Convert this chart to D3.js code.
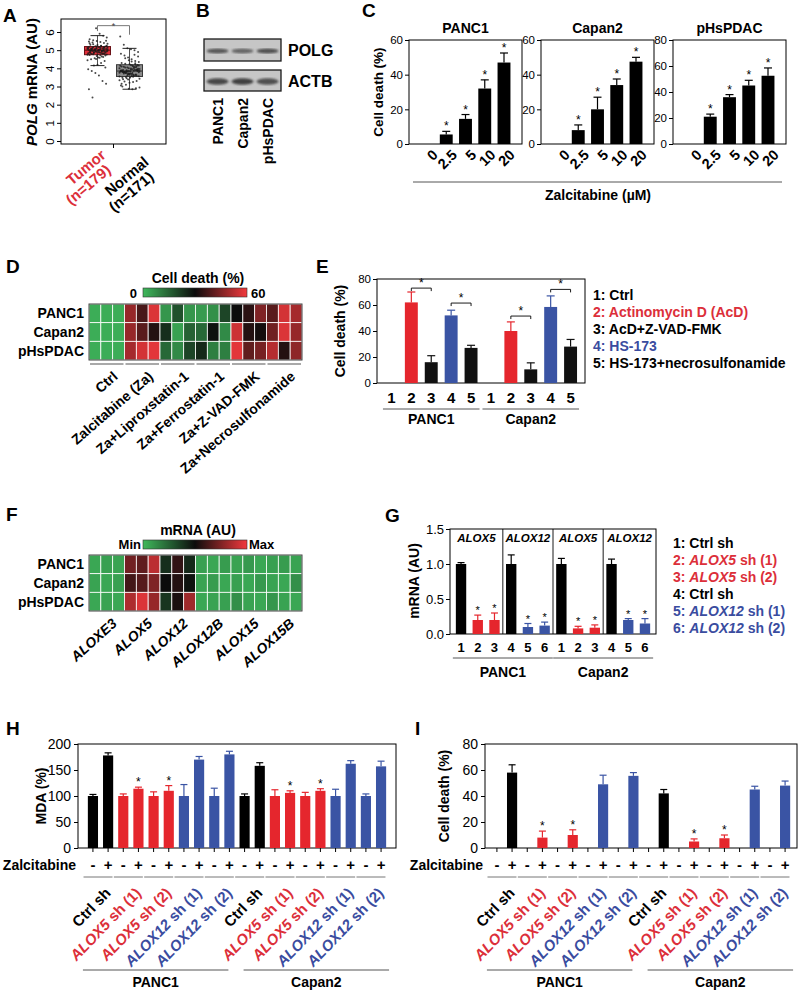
<!DOCTYPE html>
<html><head><meta charset="utf-8">
<script src="https://cdn.jsdelivr.net/npm/d3@7/dist/d3.min.js"></script>
<style>body{margin:0;background:#fff}svg text{font-family:"Liberation Sans",Arial,Helvetica,sans-serif}</style>
</head><body>
<script>
// ================= DATA =================
// Panel A
const aGroups = ["Tumor","Normal"];
const aGroupLabels = [["Tumor","(n=179)"],["Normal","(n=171)"]];
const aYTicks = [0,1,2,3,4,5,6];
// [whisker low, q1, median, q3, whisker high]
const aTumorBox = [4.15,4.75,5.0,5.2,5.8];
const aNormalBox = [2.85,3.55,3.85,4.2,5.1];
const aTumorPoints = [4.75,4.8,4.85,4.9,4.95,5.0,5.05,5.1,5.15,5.2,4.78,4.88,4.92,4.97,5.02,5.08,5.12,5.18,5.22,4.82,4.9,5.0,5.05,5.1,4.7,4.65,4.6,4.55,4.5,4.45,4.4,4.3,4.2,4.15,5.3,5.35,5.4,5.45,5.5,5.55,5.6,5.7,5.8,5.9,6.2,2.4,2.85,3.15,3.3,3.6,3.75,3.85,3.95,4.05,4.95,5.0,5.03,4.98,5.07,4.93,5.25,5.28,4.86,4.84,5.14,5.16,4.72,4.68,5.32,5.38,
  4.76,4.81,4.87,4.91,4.96,5.01,5.06,5.11,5.16,5.21,4.79,4.83,4.89,4.94,4.99,5.04,5.09,5.13,5.19,5.23,4.77,4.86,4.92,4.97,5.02,5.06,5.12,5.17,4.74,5.24,4.62,4.58,4.52,5.42,5.48,5.52,4.98,5.01,4.96,5.04];
const aNormalPoints = [3.55,3.6,3.65,3.7,3.75,3.8,3.85,3.9,3.95,4.0,4.05,4.1,4.15,4.2,3.58,3.68,3.78,3.88,3.98,4.08,4.18,3.62,3.72,3.82,3.92,4.02,3.5,3.45,3.4,3.35,3.3,3.25,3.2,3.1,3.0,2.95,2.9,2.85,2.87,4.25,4.3,4.35,4.4,4.5,4.6,4.7,4.8,4.9,5.0,5.05,5.1,5.3,5.75,3.85,3.87,3.83,3.9,3.8,3.76,3.93,4.12,4.22,3.52,3.48,3.42,3.66,3.74,4.45,4.55,3.15,
  3.57,3.63,3.69,3.73,3.79,3.84,3.89,3.94,3.99,4.04,4.09,4.14,4.19,3.61,3.71,3.81,3.91,4.01,4.11,3.54,3.64,3.74,3.86,3.96,4.06,4.16,3.86,3.82,3.88,3.78,4.28,4.38,3.38,3.28,3.05,4.65,4.75,3.92,3.84,3.8];

// Panel B
const bLanes = ["PANC1","Capan2","pHsPDAC"];
const bProteins = ["POLG","ACTB"];
const bPolgBand = [0.75,0.65,0.8];
const bActbBand = [0.85,0.9,0.8];

// Panel C
const cDoses = ["0","2.5","5","10","20"];
const cCellLines = ["PANC1","Capan2","pHsPDAC"];
const cPanc1 = [0,5.5,14.5,32,47];
const cPanc1Err = [0,1.8,2.5,5,5.5];
const cCapan2 = [0,8,20,34,47.5];
const cCapan2Err = [0,3,7,3.5,2.5];
const cPhspdac = [0,21,36,45,52.5];
const cPhspdacErr = [0,2,2,4,6];
const cYMax = [60,60,80];
const cStars = [false,true,true,true,true];

// Panel D
const dRows = ["PANC1","Capan2","pHsPDAC"];
const dGroups = ["Ctrl","Zalcitabine (Za)","Za+Liproxstatin-1","Za+Ferrostatin-1","Za+Z-VAD-FMK","Za+Necrosulfonamide"];
const dPanc1 =   [2,2,2, 48,38,57, 6,18,6, 5,7,20, 30,34,45, 40,56,50];
const dCapan2 =  [2,2,2, 48,40,33, 24,4,15, 14,29,8, 55,33,31, 43,57,48];
const dPhspdac = [2,2,2, 50,56,58, 14,8,20, 25,10,10, 58,41,44, 52,33,47];
const dScale = [0,60];

// Panel E
const eTreatments = ["1","2","3","4","5"];
const eCellLines = ["PANC1","Capan2"];
const ePanc1 = [0,62,16,52,27];
const ePanc1Err = [0,8,5,4,2];
const eCapan2 = [0,40,10.5,58.5,28];
const eCapan2Err = [0,7,5,8.5,5.5];
const ePanc1Brackets = [73,61.5];
const eCapan2Brackets = [51.5,72];
const eLegend = ["1: Ctrl","2: Actinomycin D (AcD)","3: AcD+Z-VAD-FMK","4: HS-173","5: HS-173+necrosulfonamide"];

// Panel F
const fGenes = ["ALOXE3","ALOX5","ALOX12","ALOX12B","ALOX15","ALOX15B"];
const fPanc1 =   [0.05,0.07,0.06, 0.72,0.68,0.88, 0.40,0.58,0.42, 0.07,0.05,0.08, 0.06,0.09,0.05, 0.07,0.08,0.06];
const fCapan2 =  [0.06,0.05,0.07, 0.62,0.66,0.75, 0.50,0.55,0.48, 0.06,0.08,0.05, 0.07,0.05,0.09, 0.06,0.05,0.12];
const fPhspdac = [0.05,0.06,0.05, 0.85,0.95,0.80, 0.38,0.53,0.82, 0.05,0.06,0.07, 0.12,0.06,0.05, 0.10,0.06,0.05];
const fScale = ["Min","Max"];

// Panel G
const gShRNA = ["1","2","3","4","5","6"];
const gGenes = ["ALOX5","ALOX12","ALOX5","ALOX12"];
const gCellLines = ["PANC1","Capan2"];
const gPanc1 = [1.0,0.2,0.2,1.0,0.1,0.12];
const gPanc1Err = [0.02,0.07,0.1,0.13,0.05,0.05];
const gCapan2 = [1.0,0.08,0.09,1.0,0.2,0.15];
const gCapan2Err = [0.08,0.03,0.04,0.07,0.02,0.07];
const gStars = [false,true,true,false,true,true];
const gLegend = ["1: Ctrl sh","2: ALOX5 sh (1)","3: ALOX5 sh (2)","4: Ctrl sh","5: ALOX12 sh (1)","6: ALOX12 sh (2)"];

// Panels H & I
const hiConditions = ["Ctrl sh","ALOX5 sh (1)","ALOX5 sh (2)","ALOX12 sh (1)","ALOX12 sh (2)"];
const hiZalcitabine = ["-","+"];
const hiCellLines = ["PANC1","Capan2"];
const hPanc1 = [100,178,100,114,100,110,100,170,100,180];
const hPanc1Err = [3,5,4,3,8,10,22,6,15,6];
const hCapan2 = [100,158,100,106,100,110,100,162,100,157];
const hCapan2Err = [4,6,12,4,7,4,13,6,4,10];
const hStars = [false,false,false,true,false,true,false,false,false,false];
const iPanc1 = [0,58,0,8,0,10,0,49,0,55.5];
const iPanc1Err = [0,6,0,5,0,4,0,7,0,2.5];
const iCapan2 = [0,42,0,5,0,7.5,0,45,0,48];
const iCapan2Err = [0,3,0,2,0,2.5,0,2.5,0,3.5];
const iStars = [false,false,false,true,false,true,false,false,false,false];

// ================= DRAWING =================
const svg = d3.select("body").append("svg").attr("width",800).attr("height",990).style("display","block");
svg.append("rect").attr("width",800).attr("height",990).attr("fill","#fff");
const defs = svg.append("defs");
const RED="#e5262d", BLUE="#3a54a4", REDT="#dc2f3a", BLUET="#3a4c9f";
const FONT='"Liberation Sans",Arial,Helvetica,sans-serif';

function T(g,x,y,s,o={}){
  const t=g.append("text").attr("x",x).attr("y",y)
    .attr("font-size",o.size||14).attr("font-weight",o.weight||"bold")
    .attr("fill",o.fill||"#000").attr("text-anchor",o.anchor||"start");
  if(o.dy) t.attr("dy",o.dy);
  if(o.rotate!==undefined) t.attr("transform",`rotate(${o.rotate},${x},${y})`);
  String(s).split("_").forEach((p,i)=>{ if(p!=="") t.append("tspan").attr("font-style",i%2?"italic":"normal").text(p); });
  return t;
}
const ital = s => s.replace(/(ALOX\w+)/,"_$1_");

function yAxis(g,scale,x,ticks,o){
  const ax=g.append("g").attr("transform",`translate(${x},0)`)
    .call(d3.axisLeft(scale).tickValues(ticks).tickSize(o.tick||4).tickPadding(o.pad||2).tickFormat(o.fmt||d3.format("d")));
  ax.select(".domain").remove();
  ax.selectAll("line").attr("stroke","#000");
  ax.selectAll("text").attr("font-size",o.size).attr("font-weight","normal").attr("fill","#000").style("font-family",FONT);
  return ax;
}
function frame(g,x0,y0,x1,y1){
  g.append("rect").attr("x",x0).attr("y",y0).attr("width",x1-x0).attr("height",y1-y0).attr("fill","none").attr("stroke","#000").attr("stroke-width",1);
}
function bars(g,x,y,keys,vals,errs,colors,stars,o={}){
  const bw=x.bandwidth();
  keys.forEach((k,i)=>{
    const v=vals[i], cx=x(k)+bw/2;
    if(v>0) g.append("rect").attr("x",x(k)).attr("y",y(v)).attr("width",bw).attr("height",y(0)-y(v)).attr("fill",colors[i]);
    const ye=y(v+errs[i]);
    if(errs[i]>0){
      g.append("line").attr("x1",cx).attr("x2",cx).attr("y1",y(v)).attr("y2",ye).attr("stroke",colors[i]).attr("stroke-width",1.2);
      g.append("line").attr("x1",cx-o.cap).attr("x2",cx+o.cap).attr("y1",ye).attr("y2",ye).attr("stroke",colors[i]).attr("stroke-width",1.2);
    }
    if(stars&&stars[i]) T(g,cx,ye-1,"*",{size:o.star||12,weight:"normal",anchor:"middle"});
  });
}

// Panel letters
[["A",3,22],["B",196,17],["C",362,17],["D",6,273],["E",316,273],["F",6,521],["G",385,522],["H",6,735],["I",415,735]]
  .forEach(([l,x,y])=>T(svg,x,y,l,{size:19}));

// ---------- Panel A ----------
{
  const g=svg.append("g");
  const fx0=61,fx1=166,fy0=19,fy1=144;
  const y=d3.scaleLinear().domain([0,6]).range([141,32]);
  const x=d3.scalePoint().domain(aGroups).range([fx0,fx1]).padding(1.14);
  frame(g,fx0,fy0,fx1,fy1);
  const ax=yAxis(g,y,fx0,aYTicks,{size:11.5});
  ax.selectAll("text").attr("transform","rotate(-90)").attr("x",0).attr("y",-7).attr("dy",0).attr("text-anchor","middle");
  g.append("line").attr("x1",(fx0+fx1)/2).attr("x2",(fx0+fx1)/2).attr("y1",fy1).attr("y2",fy1+4).attr("stroke","#000");
  const boxes=[aTumorBox,aNormalBox], pts=[aTumorPoints,aNormalPoints];
  const fills=["#e4303b","#8a8a8a"], strokes=["#6b1117","#3a3a3a"];
  aGroups.forEach((k,i)=>{
    const cx=x(k), b=boxes[i], bw=26;
    g.append("line").attr("x1",cx).attr("x2",cx).attr("y1",y(b[0])).attr("y2",y(b[4])).attr("stroke","#222").attr("stroke-width",0.8);
    [b[0],b[4]].forEach(v=>g.append("line").attr("x1",cx-7).attr("x2",cx+7).attr("y1",y(v)).attr("y2",y(v)).attr("stroke","#222"));
    g.append("rect").attr("x",cx-bw/2).attr("y",y(b[3])).attr("width",bw).attr("height",y(b[1])-y(b[3])).attr("fill",fills[i]).attr("stroke",strokes[i]);
    g.append("line").attr("x1",cx-bw/2).attr("x2",cx+bw/2).attr("y1",y(b[2])).attr("y2",y(b[2])).attr("stroke",strokes[i]).attr("stroke-width",1.2);
    g.selectAll(null).data(pts[i]).join("circle")
      .attr("cx",(d,j)=>cx+(((j*53)%29)/14-1)*10).attr("cy",d=>y(d)).attr("r",1).attr("fill","#1a1a1a").attr("opacity",0.8);
    T(g,cx+2+i*11,148+i*7,aGroupLabels[i][0],{size:15,rotate:-40,anchor:"end",dy:"0.75em",fill:i?"#000":REDT});
    T(g,cx+7+i*11,163+i*7,aGroupLabels[i][1],{size:15,rotate:-40,anchor:"end",dy:"0.75em",fill:i?"#000":REDT});
  });
  const ys=y(6.35);
  g.append("path").attr("d",`M${x("Tumor")},${y(6.05)}V${ys}H${x("Normal")}V${y(5.85)}`).attr("fill","none").attr("stroke","#555").attr("stroke-width",0.8);
  T(g,(x("Tumor")+x("Normal"))/2,ys+3,"*",{size:9,weight:"normal",anchor:"middle",fill:"#444"});
  T(g,37,82,"_POLG_ mRNA (AU)",{size:15,rotate:-90,anchor:"middle"});
}

// ---------- Panel B ----------
{
  const g=svg.append("g");
  defs.append("filter").attr("id","blur").append("feGaussianBlur").attr("stdDeviation",1.2);
  const x=d3.scaleBand().domain(bLanes).range([204,281]).padding(0.08);
  const bands=[bPolgBand,bActbBand], top=[39,70], h=[22,21];
  bProteins.forEach((p,pi)=>{
    g.append("rect").attr("x",204).attr("y",top[pi]).attr("width",77).attr("height",h[pi]).attr("fill","#c6c6c6").attr("stroke","#1a1a1a").attr("stroke-width",1.3);
    g.selectAll(null).data(bLanes).join("ellipse")
      .attr("cx",d=>x(d)+x.bandwidth()/2).attr("cy",top[pi]+h[pi]/2+1).attr("rx",11).attr("ry",pi?3.2:2.4)
      .attr("fill","#333").attr("opacity",(d,i)=>bands[pi][i]).attr("filter","url(#blur)");
    T(g,288,top[pi]+h[pi]/2+6,p,{size:16});
  });
  bLanes.forEach(l=>T(g,x(l)+x.bandwidth()/2+5,98,l,{size:14,rotate:-90,anchor:"end"}));
}

// ---------- Panel C ----------
{
  const vals=[cPanc1,cCapan2,cPhspdac], errs=[cPanc1Err,cCapan2Err,cPhspdacErr];
  const lefts=[409,541,673], w=113, top=40, bot=144;
  cCellLines.forEach((name,k)=>{
    const g=svg.append("g").attr("transform",`translate(${lefts[k]},0)`);
    const y=d3.scaleLinear().domain([0,cYMax[k]]).range([bot,top]);
    const x=d3.scaleBand().domain(cDoses).range([0,w]).paddingInner(0.33).paddingOuter(0.6);
    frame(g,0,top,w,bot);
    yAxis(g,y,0,d3.range(0,cYMax[k]+1,20),{size:11.5});
    bars(g,x,y,cDoses,vals[k],errs[k],cDoses.map(()=>"#000"),cStars,{cap:4,star:12});
    cDoses.forEach(d=>T(g,x(d)+x.bandwidth()/2+4,148,d,{size:14.5,rotate:-45,anchor:"end",dy:"0.75em"}));
    T(g,w/2,33,name,{size:14,anchor:"middle"});
  });
  svg.append("line").attr("x1",413).attr("x2",782).attr("y1",182).attr("y2",182).attr("stroke","#555");
  T(svg,598,200,"Zalcitabine (µM)",{size:14,anchor:"middle"});
  T(svg,383,92,"Cell death (%)",{size:13.5,rotate:-90,anchor:"middle"});
}

// ---------- Heatmap helper ----------
function heat(g,rows,rowVals,x0,x1,y0,y1,color){
  const x=d3.scaleBand().domain(d3.range(rowVals[0].length)).range([x0,x1]);
  const y=d3.scaleBand().domain(rows).range([y0,y1]);
  rows.forEach((r,ri)=>{
    g.selectAll(null).data(rowVals[ri]).join("rect")
      .attr("x",(d,j)=>x(j)).attr("y",y(r)).attr("width",x.bandwidth()).attr("height",y.bandwidth())
      .attr("fill",d=>color(d)).attr("stroke","#fff").attr("stroke-width",0.8);
    T(g,x0-5,y(r)+y.bandwidth()/2+5,r,{size:14,anchor:"end"});
  });
  g.append("rect").attr("x",x0).attr("y",y0).attr("width",x1-x0).attr("height",y1-y0).attr("fill","none").attr("stroke","#444");
  return x;
}
function gradient(id,color,domain){
  const gr=defs.append("linearGradient").attr("id",id);
  d3.range(0,1.001,0.1).forEach(t=>gr.append("stop").attr("offset",t).attr("stop-color",color(domain[0]+t*(domain[1]-domain[0]))));
}

// ---------- Panel D ----------
{
  const g=svg.append("g");
  const color=d3.scaleLinear().domain([0,30,60]).range(["#3fb85c","#0c0c0c","#f2393d"]);
  gradient("gradD",color,dScale);
  T(g,198,283,"Cell death (%)",{size:14,anchor:"middle"});
  g.append("rect").attr("x",143).attr("y",288).attr("width",104).attr("height",9).attr("fill","url(#gradD)").attr("stroke","#333").attr("stroke-width",0.6);
  T(g,137,298,String(dScale[0]),{size:13,anchor:"end"});
  T(g,251,298,String(dScale[1]),{size:13});
  const x=heat(g,dRows,[dPanc1,dCapan2,dPhspdac],89,302,304,360,color);
  const bw=x.bandwidth();
  dGroups.forEach((name,k)=>{
    g.append("line").attr("x1",x(3*k)+1).attr("x2",x(3*k+2)+bw-1).attr("y1",364).attr("y2",364).attr("stroke","#555").attr("stroke-width",1.2);
    T(g,x(3*k)+1.5*bw+5,370,name,{size:14,rotate:-41,anchor:"end",dy:"0.75em"});
  });
}

// ---------- Panel E ----------
{
  const g=svg.append("g");
  const fx0=377,fx1=585,top=279,bot=383;
  const y=d3.scaleLinear().domain([0,80]).range([bot,top]);
  const keys=d3.range(10);
  const x=d3.scaleBand().domain(keys).range([fx0,fx1]).paddingInner(0.35).paddingOuter(0.4);
  const bw=x.bandwidth(), c=i=>x(i)+bw/2;
  frame(g,fx0,top,fx1,bot);
  yAxis(g,y,fx0,[0,20,40,60,80],{size:11.5});
  const col=["#000",RED,"#111",BLUE,"#111"];
  bars(g,x,y,keys,ePanc1.concat(eCapan2),ePanc1Err.concat(eCapan2Err),keys.map(i=>col[i%5]),null,{cap:4});
  keys.forEach(i=>T(g,c(i),403,eTreatments[i%5],{size:15,anchor:"middle"}));
  const brs=[[1,2,ePanc1Brackets[0]],[3,4,ePanc1Brackets[1]],[6,7,eCapan2Brackets[0]],[8,9,eCapan2Brackets[1]]];
  brs.forEach(([a,b,v])=>{
    const yy=y(v);
    g.append("path").attr("d",`M${c(a)},${yy+3}V${yy}H${c(b)}V${yy+3}`).attr("fill","none").attr("stroke","#000").attr("stroke-width",0.9);
    T(g,(c(a)+c(b))/2,yy-1,"*",{size:12,weight:"normal",anchor:"middle"});
  });
  eCellLines.forEach((n,k)=>{
    const xa=x(5*k)-2, xb=x(5*k+4)+bw+2;
    g.append("line").attr("x1",xa).attr("x2",xb).attr("y1",409).attr("y2",409).attr("stroke","#555");
    T(g,(xa+xb)/2,424,n,{size:14,anchor:"middle"});
  });
  T(g,345,331,"Cell death (%)",{size:14,rotate:-90,anchor:"middle"});
  const lc=["#000",REDT,"#000",BLUET,"#000"];
  eLegend.forEach((s,i)=>T(g,593,300+17*i,s,{size:14,fill:lc[i]}));
}

// ---------- Panel F ----------
{
  const g=svg.append("g");
  const color=d3.scaleLinear().domain([0,0.5,1]).range(["#3fb85c","#0c0c0c","#f2393d"]);
  gradient("gradF",color,[0,1]);
  T(g,198,535,"mRNA (AU)",{size:14,anchor:"middle"});
  g.append("rect").attr("x",143).attr("y",540).attr("width",104).attr("height",9).attr("fill","url(#gradF)").attr("stroke","#333").attr("stroke-width",0.6);
  T(g,141,549,fScale[0],{size:13,anchor:"end"});
  T(g,249,549,fScale[1],{size:13});
  const x=heat(g,dRows,[fPanc1,fCapan2,fPhspdac],89,302,555,611,color);
  const bw=x.bandwidth();
  fGenes.forEach((name,k)=>T(g,x(3*k)+1.5*bw+4,617,"_"+name+"_",{size:14,rotate:-42,anchor:"end",dy:"0.75em"}));
}

// ---------- Panel G ----------
{
  const g=svg.append("g");
  const fx0=450,fx1=656,top=529,bot=634;
  const y=d3.scaleLinear().domain([0,1.5]).range([bot,top]);
  const keys=d3.range(12);
  const x=d3.scaleBand().domain(keys).range([fx0,fx1]).paddingInner(0.38).paddingOuter(0.35);
  const bw=x.bandwidth(), c=i=>x(i)+bw/2;
  frame(g,fx0,top,fx1,bot);
  yAxis(g,y,fx0,[0,0.5,1.0,1.5],{size:13,fmt:d3.format(".1f")});
  const divs=[fx0];
  for(let k=1;k<4;k++){
    const xd=(x(3*k-1)+bw+x(3*k))/2; divs.push(xd);
    g.append("line").attr("x1",xd).attr("x2",xd).attr("y1",top).attr("y2",bot).attr("stroke","#000").attr("stroke-width",0.9);
  }
  divs.push(fx1);
  gGenes.forEach((n,k)=>T(g,(divs[k]+divs[k+1])/2,542,"_"+n+"_",{size:11.5,anchor:"middle"}));
  const col=["#000",RED,RED,"#000",BLUE,BLUE];
  bars(g,x,y,keys,gPanc1.concat(gCapan2),gPanc1Err.concat(gCapan2Err),keys.map(i=>col[i%6]),gStars.concat(gStars),{cap:3.5,star:11});
  keys.forEach(i=>T(g,c(i),652,gShRNA[i%6],{size:13,anchor:"middle"}));
  gCellLines.forEach((n,k)=>{
    const xa=x(6*k)-3, xb=x(6*k+5)+bw+3;
    g.append("line").attr("x1",xa).attr("x2",xb).attr("y1",658).attr("y2",658).attr("stroke","#555");
    T(g,(xa+xb)/2,677,n,{size:14,anchor:"middle"});
  });
  T(g,419,581,"mRNA (AU)",{size:14,rotate:-90,anchor:"middle"});
  const lc=["#000",REDT,REDT,"#000",BLUET,BLUET];
  gLegend.forEach((s,i)=>T(g,673,548+17*i,ital(s),{size:14,fill:lc[i]}));
}

// ---------- Panels H & I ----------
function shPanel(o){
  const g=svg.append("g");
  const top=744,bot=848;
  const y=d3.scaleLinear().domain([0,o.yMax]).range([bot,top]);
  const keys=d3.range(20);
  const x=d3.scaleBand().domain(keys).range([o.x0,o.x1]).paddingInner(0.33).paddingOuter(o.po);
  const bw=x.bandwidth(), c=i=>x(i)+bw/2;
  frame(g,o.x0,top,o.x1,bot);
  yAxis(g,y,o.x0,o.ticks,{size:14,pad:3});
  keys.forEach(i=>g.append("line").attr("x1",c(i)).attr("x2",c(i)).attr("y1",bot).attr("y2",bot+4).attr("stroke","#000"));
  const condCol=["#000",RED,RED,BLUE,BLUE];
  bars(g,x,y,keys,o.vals,o.errs,keys.map(i=>condCol[Math.floor(i/2)%5]),o.stars,{cap:3.5,star:12});
  T(g,o.x0-2,870,"Zalcitabine",{size:14,anchor:"end"});
  keys.forEach(i=>T(g,c(i),870,hiZalcitabine[i%2],{size:15,anchor:"middle"}));
  for(let p=0;p<10;p++){
    const m=(c(2*p)+c(2*p+1))/2, q=p%5;
    g.append("line").attr("x1",m-17).attr("x2",m+12).attr("y1",877).attr("y2",877).attr("stroke","#777");
    T(g,m+3,886,ital(hiConditions[q]),{size:15,rotate:-46,anchor:"end",dy:"0.75em",fill:q===0?"#000":(q<3?REDT:BLUET)});
  }
  const spans=[[c(0)-10,c(9)-1],[c(10)-1,c(19)+8]];
  hiCellLines.forEach((n,k)=>{
    g.append("line").attr("x1",spans[k][0]).attr("x2",spans[k][1]).attr("y1",970).attr("y2",970).attr("stroke","#555");
    T(g,(spans[k][0]+spans[k][1])/2,987,n,{size:14,anchor:"middle"});
  });
  T(g,o.ylabX,796,o.ylab,{size:14,rotate:-90,anchor:"middle"});
}
shPanel({x0:78,x1:396,po:0.65,yMax:200,ticks:[0,50,100,150,200],vals:hPanc1.concat(hCapan2),errs:hPanc1Err.concat(hCapan2Err),stars:hStars.concat(hStars),ylab:"MDA (%)",ylabX:46});
shPanel({x0:485,x1:797,po:0.45,yMax:80,ticks:[0,20,40,60,80],vals:iPanc1.concat(iCapan2),errs:iPanc1Err.concat(iCapan2Err),stars:iStars.concat(iStars),ylab:"Cell death (%)",ylabX:449});
</script>
</body></html>
